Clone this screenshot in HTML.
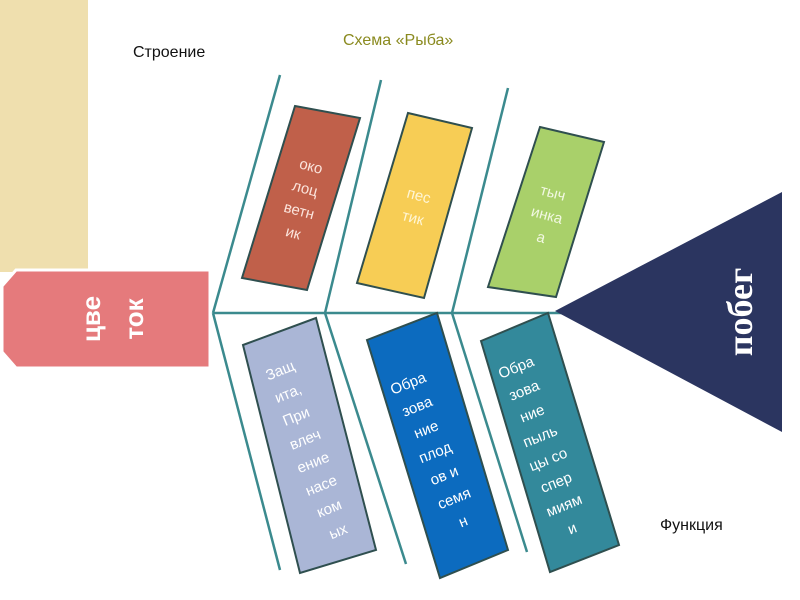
<!DOCTYPE html>
<html><head><meta charset="utf-8"><style>
body{margin:0;width:800px;height:600px;overflow:hidden;background:#fff}
svg{display:block}
</style></head><body>
<svg width="800" height="600" xmlns="http://www.w3.org/2000/svg" font-family="Liberation Sans, DejaVu Sans, sans-serif">
<rect x="0" y="0" width="88" height="272" fill="#efdfae"/>
<text x="133" y="57" font-size="16" fill="#111">Строение</text>
<text x="343" y="45" font-size="16" fill="#8a8a1f">Схема «Рыба»</text>
<text x="660" y="530" font-size="16" fill="#111">Функция</text>
<g stroke="#3b8a8e" stroke-width="2.5" fill="none">
<line x1="213" y1="313" x2="680" y2="313"/>
<line x1="213" y1="313" x2="280" y2="75"/>
<line x1="325" y1="313" x2="381" y2="80"/>
<line x1="452" y1="313" x2="508" y2="88"/>
<line x1="213" y1="313" x2="280" y2="570"/>
<line x1="325" y1="313" x2="406" y2="564"/>
<line x1="452" y1="313" x2="527" y2="552"/>
</g>
<polygon points="16,270 210,270 210,368 16,368 2,352 2,286" fill="#e57a7c" stroke="#fff" stroke-width="3"/>
<text transform="translate(100,319) rotate(-90)" font-size="26" font-weight="bold" fill="#fff" text-anchor="middle">цве</text>
<text transform="translate(143,319) rotate(-90)" font-size="26" font-weight="bold" fill="#fff" text-anchor="middle">ток</text>
<polygon points="555,311 782,192 782,432" fill="#2b3560"/>
<text transform="translate(752,312) rotate(-90)" font-size="36" font-weight="bold" font-family="Liberation Serif, serif" fill="#fff" text-anchor="middle">побег</text>
<g stroke="#2f4f4f" stroke-width="2">
<polygon points="295,106 360,118 307,290 242,278" fill="#c0604a"/>
<polygon points="408,113 472,128 424,298 357,283" fill="#f7cd55"/>
<polygon points="540,127 604,142 556,297 488,287" fill="#a9d06a"/>
<polygon points="243,345 316,318 376,550 300,573" fill="#aab6d6"/>
<polygon points="367,340 437,313 508,550 440,578" fill="#0c6bbf"/>
<polygon points="481,341 548,313 619,545 550,572" fill="#33899b"/>
</g>
<g font-size="15" fill="#fbe4dc" text-anchor="middle">
<g transform="translate(302,200) rotate(15)"><text y="-30">око</text><text y="-7">лоц</text><text y="16">ветн</text><text y="39">ик</text></g>
<g transform="translate(415,210) rotate(15)" fill="#fff6d6"><text y="-10">пес</text><text y="13">тик</text></g>
<g transform="translate(547,215) rotate(15)" fill="#f2f8e2"><text y="-18">тыч</text><text y="5">инка</text><text y="28">а</text></g>
</g>
<g font-size="15" fill="#fff" text-anchor="middle">
<text transform="translate(282,375) rotate(-22)">Защ</text>
<text transform="translate(290,398) rotate(-22)">ита,</text>
<text transform="translate(298,421) rotate(-22)">При</text>
<text transform="translate(307,444) rotate(-22)">влеч</text>
<text transform="translate(315,467) rotate(-22)">ение</text>
<text transform="translate(323,490) rotate(-22)">насе</text>
<text transform="translate(331,513) rotate(-22)">ком</text>
<text transform="translate(340,536) rotate(-22)">ых</text>

<text transform="translate(410,388) rotate(-22)">Обра</text>
<text transform="translate(419,411) rotate(-22)">зова</text>
<text transform="translate(428,434) rotate(-22)">ние</text>
<text transform="translate(437,457) rotate(-22)">плод</text>
<text transform="translate(446,480) rotate(-22)">ов и</text>
<text transform="translate(456,503) rotate(-22)">семя</text>
<text transform="translate(465,526) rotate(-22)">н</text>

<text transform="translate(518,372) rotate(-22)">Обра</text>
<text transform="translate(526,395) rotate(-22)">зова</text>
<text transform="translate(534,418) rotate(-22)">ние</text>
<text transform="translate(542,441) rotate(-22)">пыль</text>
<text transform="translate(550,464) rotate(-22)">цы со</text>
<text transform="translate(558,487) rotate(-22)">спер</text>
<text transform="translate(566,510) rotate(-22)">миям</text>
<text transform="translate(574,533) rotate(-22)">и</text>
</g>
</svg>
</body></html>
